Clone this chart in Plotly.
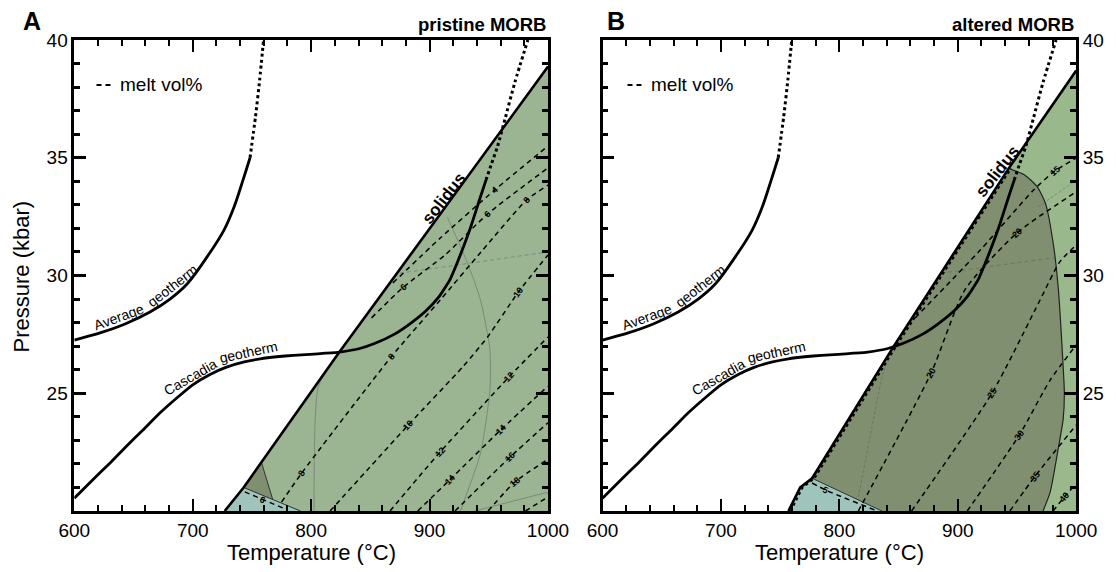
import plotly.graph_objects as go

FONT = "Liberation Sans, Arial, Helvetica, sans-serif"
W, H = 1116, 572

# ---------------- axis ticks ----------------
x_range = [600, 1000]
y_range = [20, 40]
x_ticks = [600, 700, 800, 900, 1000]
y_ticks = [25, 30, 35, 40]

# ---------------- geotherms (same in both panels) ----------------
avg_T = [600, 621.7, 642.8, 663.9, 680.8, 695.2, 712.1, 726.4, 734.9, 742.5, 748.4]
avg_P = [27.26, 27.56, 27.94, 28.45, 29.0, 29.64, 30.79, 31.93, 32.91, 34.06, 35.0]
avg_ext_T = [748.4, 753, 756.5, 759.8]
avg_ext_P = [35.0, 36.74, 38.3, 40.0]
cas_T = [600, 615, 630, 644, 658, 672, 686.5, 700, 714.6, 728, 742.7, 757, 770.9, 785, 799, 812, 824,
         841, 854, 870, 884, 897, 908, 917, 923, 934, 942.7, 947.7]
cas_P = [20.54, 21.3, 22.03, 22.75, 23.44, 24.15, 24.8, 25.36, 25.8, 26.1, 26.32, 26.46, 26.55, 26.61, 26.65,
         26.7, 26.75, 26.9, 27.12, 27.5, 27.97, 28.5, 29.1, 29.8, 30.5, 31.95, 33.3, 34.06]
cas_ext_T = [947.7, 952, 957.5, 964, 972, 983]
cas_ext_P = [34.06, 34.7, 35.5, 36.7, 38.2, 40.0]

# ---------------- panel A (pristine MORB) fields ----------------
solA_T = [727, 743, 758, 824, 1000]
solA_P = [20.0, 21.0, 22.07, 26.76, 38.87]
blueA_T = [727, 743, 791]
blueA_P = [20.0, 21.0, 20.0]
darkA_T = [743, 758, 767.6]
darkA_P = [21.0, 22.07, 20.48]

# melt vol% contours, panel A
cA4_T = [869, 909, 955, 1000];            cA4_P = [29.68, 31.59, 33.63, 35.5]
cA6_T = [851, 878, 913, 949, 1000];       cA6_P = [28.2, 29.51, 30.87, 32.61, 34.57]
cA8_T = [775, 792, 867.5, 909, 943.5, 982, 1000]
cA8_P = [20.38, 21.61, 26.54, 28.96, 31.0, 33.21, 33.84]
cA10_T = [816, 882, 928, 949, 975, 1000]; cA10_P = [20.0, 23.65, 26.12, 27.39, 29.3, 30.87]
cA12_T = [866.6, 909, 967, 1000];         cA12_P = [20.0, 22.51, 25.69, 27.39]
cA14_T = [890, 917, 960, 1000];           cA14_P = [20.0, 21.32, 23.44, 25.3]
cA16_T = [921.5, 968, 1000];              cA16_P = [20.0, 22.29, 23.75]
cA18_T = [949.4, 972, 1000];              cA18_P = [20.0, 21.23, 22.2]
cA20_T = [981, 1000];                     cA20_P = [20.0, 20.6]
cAb6_T = [744, 778];                      cAb6_P = [20.81, 20.09]

labA_txt = ["4", "6", "6", "8", "8", "8", "10", "10", "12", "12", "14", "14", "16", "18", "6"]
labA_T = [955, 949, 878, 982, 792, 867.5, 882, 975, 909, 967, 917, 960, 968, 972, 759]
labA_P = [33.63, 32.61, 29.51, 33.21, 21.61, 26.54, 23.65, 29.3, 22.51, 25.69, 21.32, 23.44, 22.29, 21.23, 20.47]
labA_ang = [-41, -44, -40, -48, -58, -52, -47, -55, -48, -48, -45, -45, -44, -40, 23]

# faint phase boundaries, panel A
gA1_T = [820, 806, 802.5];                        gA1_P = [26.5, 25.27, 20.0]
gA2_T = [915, 932, 943, 951, 951, 943, 926];      gA2_P = [32.48, 30.53, 28.96, 26.84, 25.14, 22.46, 20.0]
gA3_T = [875, 1000];                              gA3_P = [30.1, 31.0]
gA4_T = [938, 1000];                              gA4_P = [20.0, 20.8]

# ---------------- panel B (altered MORB) fields ----------------
solB_T = [757, 767, 777, 846, 943, 1000]
solB_P = [20.0, 21.0, 21.39, 27.0, 34.55, 38.7]
blueB_T = [757, 767, 777, 836]
blueB_P = [20.0, 21.0, 21.39, 20.0]
darkB_edge_T = [943, 957, 967, 974, 981, 985, 988, 990, 989, 985, 978, 972]
darkB_edge_P = [34.55, 34.25, 33.77, 33.07, 31.22, 29.38, 27.0, 25.0, 23.9, 22.7, 20.8, 20.0]

cB15_T = [864, 919, 964, 982, 1000];      cB15_P = [28.2, 31.08, 33.63, 34.44, 34.99]
cB20_T = [816, 877.5, 906, 950, 1000];    cB20_P = [20.0, 25.86, 29.39, 31.81, 33.55]
cB25_T = [861, 929, 969.5, 986, 1000];    cB25_P = [20.0, 25.01, 28.96, 30.57, 31.3]
cB30_T = [908, 952, 978, 1000];           cB30_P = [20.0, 23.23, 25.56, 27.05]
cB35_T = [944, 965, 1000];                cB35_P = [20.0, 21.46, 23.65]
cB40_T = [980.5, 990, 1000];              cB40_P = [20.0, 20.6, 21.15]
cB5_T = [777, 788, 832];                  cB5_P = [21.19, 20.9, 20.0]
cBs_T = [759, 769, 779, 848, 945];        cBs_P = [20.0, 21.0, 21.39, 27.0, 34.55]

labB_txt = ["15", "20", "20", "25", "30", "35", "40", "5"]
labB_T = [982, 950, 877.5, 929, 952, 965, 990, 788]
labB_P = [34.44, 31.81, 25.86, 25.01, 23.23, 21.46, 20.6, 20.9]
labB_ang = [-41, -42, -62, -56, -55, -53, -50, 22]

gB1_T = [840, 836, 832, 816];             gB1_P = [26.3, 25.7, 24.71, 20.6]
gB2_T = [886, 986];                       gB2_P = [30.1, 30.79]
gB3_T = [968, 1000];                      gB3_P = [32.92, 34.05]

# geotherm label positions
geo_lab_txt = ["Average", "geotherm", "Cascadia", "geotherm"]
geo_lab_T = [637.5, 682.5, 698, 747]
geo_lab_P = [28.22, 29.55, 25.7, 26.74]
geo_lab_ang = [-20, -38, -30, -12]

sol_lab_T = [911.9, 933.6]
sol_lab_P = [33.28, 34.41]

# ---------------- colours ----------------
GREEN_A = "#9bb492"
DARK_A = "#808f70"
BLUE = "#9ec4bb"
GREEN_B = "#99b98d"
DARK_B = "#808f6f"
GRAY = "rgba(80,80,80,0.45)"

fig = go.Figure()


def poly(T, P, color, xa, ya):
    fig.add_trace(go.Scatter(x=T, y=P, fill="toself", fillcolor=color, mode="lines",
                             line=dict(width=0, color=color), hoverinfo="skip",
                             showlegend=False, xaxis=xa, yaxis=ya))


def line(T, P, xa, ya, color="black", width=1.5, dash=None, shape="linear", smoothing=0.6):
    fig.add_trace(go.Scatter(x=T, y=P, mode="lines",
                             line=dict(color=color, width=width, dash=dash, shape=shape, smoothing=smoothing),
                             hoverinfo="skip", showlegend=False, xaxis=xa, yaxis=ya))


# ----- Panel A fills
poly(solA_T + [1000], solA_P + [20.0], GREEN_A, "x", "y")
poly(blueA_T, blueA_P, BLUE, "x", "y")
poly(darkA_T, darkA_P, DARK_A, "x", "y")
line(blueA_T[1:], blueA_P[1:], "x", "y", "#333", 1)
line(darkA_T[1:], darkA_P[1:], "x", "y", "#333", 1)

# ----- Panel B fills
poly(solB_T + [1000], solB_P + [20.0], GREEN_B, "x2", "y2")
poly(blueB_T, blueB_P, BLUE, "x2", "y2")
poly(solB_T[2:5] + darkB_edge_T[1:] + [blueB_T[3]], solB_P[2:5] + darkB_edge_P[1:] + [blueB_P[3]], DARK_B, "x2", "y2")
line(darkB_edge_T, darkB_edge_P, "x2", "y2", "#222", 1.2, shape="spline")
line(blueB_T[2:], blueB_P[2:], "x2", "y2", "#333", 1)

# faint boundaries
for T, P in [(gA1_T, gA1_P), (gA2_T, gA2_P), (gA4_T, gA4_P)]:
    line(T, P, "x", "y", GRAY, 0.9, shape="spline")
line(gA3_T, gA3_P, "x", "y", GRAY, 0.9, dash="4px,3px")
for T, P in [(gB1_T, gB1_P), (gB3_T, gB3_P)]:
    line(T, P, "x2", "y2", GRAY, 0.9, dash="3px,2px")
line(gB2_T, gB2_P, "x2", "y2", GRAY, 0.9, dash="4px,3px")

# melt contours
for T, P in [(cA4_T, cA4_P), (cA6_T, cA6_P), (cA8_T, cA8_P), (cA10_T, cA10_P), (cA12_T, cA12_P),
             (cA14_T, cA14_P), (cA16_T, cA16_P), (cA18_T, cA18_P), (cA20_T, cA20_P), (cAb6_T, cAb6_P)]:
    line(T, P, "x", "y", "black", 1.5, dash="5px,4px", shape="spline")
for T, P in [(cB15_T, cB15_P), (cB20_T, cB20_P), (cB25_T, cB25_P), (cB30_T, cB30_P),
             (cB35_T, cB35_P), (cB40_T, cB40_P), (cB5_T, cB5_P)]:
    line(T, P, "x2", "y2", "black", 1.5, dash="5px,4px", shape="spline")
line(cBs_T, cBs_P, "x2", "y2", "black", 2, dash="3px,3px")

# solidus + geotherms
for xa, ya, sT, sP in [("x", "y", solA_T, solA_P), ("x2", "y2", solB_T, solB_P)]:
    line(sT, sP, xa, ya, "black", 2.6)
    line(avg_T, avg_P, xa, ya, "black", 2.8, shape="spline", smoothing=1.0)
    line(avg_ext_T, avg_ext_P, xa, ya, "black", 3, dash="dot", shape="spline")
    line(cas_T, cas_P, xa, ya, "black", 2.8, shape="spline", smoothing=0.4)
    line(cas_ext_T, cas_ext_P, xa, ya, "black", 3, dash="dot", shape="spline")

# ----- axes
xdomA = [74.3 / W, 548 / W]
xdomB = [602.5 / W, 1076.2 / W]
ydom = [1 - 511 / H, 1 - 40 / H]

xcommon = dict(range=x_range, tickmode="array", tickvals=x_ticks, ticks="inside", ticklen=12,
               tickwidth=1.5, tickcolor="black",
               minor=dict(tickmode="linear", tick0=600, dtick=20, ticks="inside", ticklen=6,
                          tickwidth=1.5, tickcolor="black"),
               showline=True, linecolor="black", linewidth=2.5, mirror="ticks",
               showgrid=False, zeroline=False, fixedrange=True, automargin=False,
               tickfont=dict(size=19, family=FONT, color="black"))
ycommon = dict(range=y_range, tickmode="array", tickvals=y_ticks, ticks="inside", ticklen=12,
               tickwidth=2.5, tickcolor="black",
               minor=dict(tickmode="linear", tick0=0, dtick=1, ticks="inside", ticklen=6,
                          tickwidth=2.5, tickcolor="black"),
               showline=True, linecolor="black", linewidth=2.5, mirror="ticks",
               showgrid=False, zeroline=False, fixedrange=True, automargin=False,
               tickfont=dict(size=19, family=FONT, color="black"))

fig.update_layout(
    width=W, height=H, margin=dict(l=0, r=0, t=0, b=0, pad=0, autoexpand=False),
    paper_bgcolor="white", plot_bgcolor="white", showlegend=False,
    font=dict(family=FONT, color="black"),
    xaxis=dict(domain=xdomA, anchor="y", **xcommon),
    yaxis=dict(domain=ydom, anchor="x", side="left", **ycommon),
    xaxis2=dict(domain=xdomB, anchor="y2", **xcommon),
    yaxis2=dict(domain=ydom, anchor="x2", side="right", **ycommon),
)

ann = []


def pa(text, xpx, ypx, size, bold=False, xanchor="center", yanchor="middle", angle=0):
    ann.append(dict(text=("<b>%s</b>" % text) if bold else text, x=xpx / W, y=1 - ypx / H,
                    xref="paper", yref="paper", showarrow=False, xanchor=xanchor, yanchor=yanchor,
                    textangle=angle, font=dict(size=size, family=FONT, color="black")))


pa("A", 21, 21, 25, bold=True, xanchor="left")
pa("B", 605, 21, 25, bold=True, xanchor="left")
pa("pristine MORB", 548, 24, 18.5, bold=True, xanchor="right")
pa("altered MORB", 1076, 24, 18.5, bold=True, xanchor="right")
pa("Pressure (kbar)", 20.5, 277, 22, angle=-90)
pa("Temperature (°C)", (74.3 + 548) / 2, 552, 22)
pa("Temperature (°C)", (602.5 + 1076.2) / 2, 552, 22)
pa("melt vol%", 118, 85, 19, xanchor="left")
pa("melt vol%", 649, 85, 19, xanchor="left")

for xa, ya in [("x", "y"), ("x2", "y2")]:
    for t, T, P, a in zip(geo_lab_txt, geo_lab_T, geo_lab_P, geo_lab_ang):
        ann.append(dict(text=t, x=T, y=P, xref=xa, yref=ya, showarrow=False, textangle=a,
                        font=dict(size=14, family=FONT, color="black")))
for xa, ya, T, P in [("x", "y", sol_lab_T[0], sol_lab_P[0]), ("x2", "y2", sol_lab_T[1], sol_lab_P[1])]:
    ann.append(dict(text="<b>solidus</b>", x=T, y=P, xref=xa, yref=ya, showarrow=False, textangle=-52,
                    font=dict(size=17, family=FONT, color="black")))
for t, T, P, a in zip(labA_txt, labA_T, labA_P, labA_ang):
    ann.append(dict(text="<b>%s</b>" % t, x=T, y=P, xref="x", yref="y", showarrow=False, textangle=a,
                    font=dict(size=9, family=FONT, color="black")))
for t, T, P, a in zip(labB_txt, labB_T, labB_P, labB_ang):
    ann.append(dict(text="<b>%s</b>" % t, x=T, y=P, xref="x2", yref="y2", showarrow=False, textangle=a,
                    font=dict(size=9, family=FONT, color="black")))

fig.update_layout(annotations=ann)

shapes = []
for x0 in [96.5, 627.5]:
    shapes.append(dict(type="line", xref="paper", yref="paper", x0=x0 / W, x1=(x0 + 14) / W,
                       y0=1 - 85 / H, y1=1 - 85 / H, line=dict(color="black", width=2, dash="5px,4px")))
fig.update_layout(shapes=shapes)

fig.write_html("out.html")
